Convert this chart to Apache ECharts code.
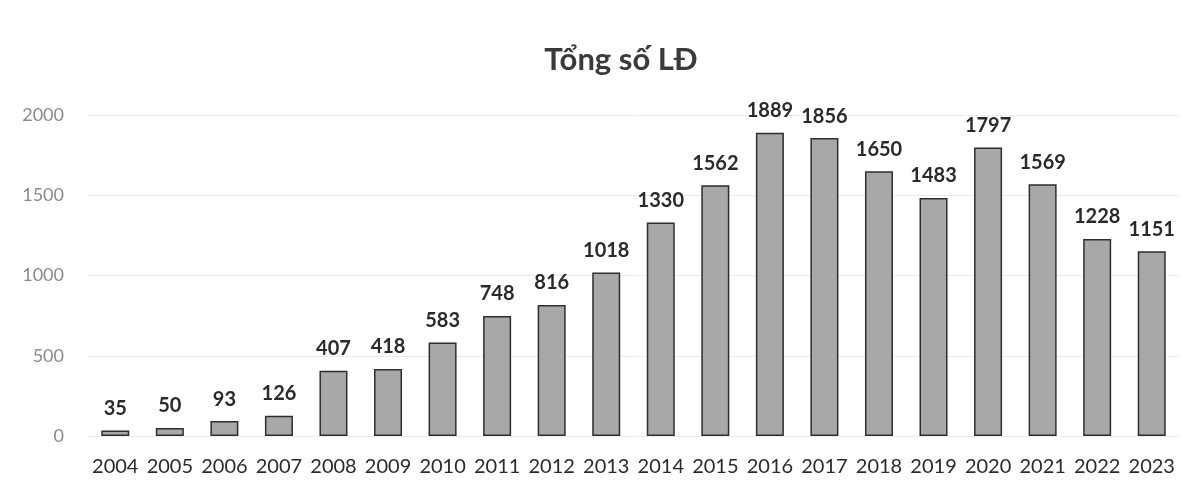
<!DOCTYPE html>
<html><head><meta charset="utf-8">
<script src="https://cdn.jsdelivr.net/npm/echarts@6/dist/echarts.min.js"></script>
<style>html,body{margin:0;padding:0;background:#fff}#c{width:1202px;height:488px}</style>
</head><body><div id="c"></div>
<script>
const title = "Tổng số LĐ";
const years = ["2004","2005","2006","2007","2008","2009","2010","2011","2012","2013","2014","2015","2016","2017","2018","2019","2020","2021","2022","2023"];
const workers = [35,50,93,126,407,418,583,748,816,1018,1330,1562,1889,1856,1650,1483,1797,1569,1228,1151];
const yTicks = [0,500,1000,1500,2000];

const chart = echarts.init(document.getElementById('c'), null, {renderer:'canvas'});
chart.setOption({
  backgroundColor:'#fff',
  animation:false,
  title:{text:title,left:616,top:39,textAlign:'center',
    textStyle:{fontFamily:'Lato, "Open Sans", sans-serif',fontSize:31,fontWeight:'bold',color:'#3a3a3a'}},
  grid:{left:88,right:23,top:115,bottom:52},
  xAxis:{type:'category',data:years,
    axisLine:{show:false},axisTick:{show:false},
    axisLabel:{margin:21,fontFamily:'Lato, "Open Sans", sans-serif',fontSize:20,color:'#2a2a2a',interval:0}},
  yAxis:{type:'value',min:yTicks[0],max:yTicks[yTicks.length-1],interval:500,
    axisLine:{show:false},axisTick:{show:false},
    splitLine:{lineStyle:{color:'#ececec',width:1}},
    axisLabel:{margin:24,fontFamily:'Lato, "Open Sans", sans-serif',fontSize:18,color:'#8a8a8a',
      formatter:v=>String(v)}},
  series:[{type:'bar',data:workers,barWidth:28,
    itemStyle:{color:'#a8a8a8',borderColor:'#2e2e2e',borderWidth:1.5},
    label:{show:true,position:'top',distance:12,fontFamily:'Lato, "Open Sans", sans-serif',fontSize:20,fontWeight:'bold',color:'#2a2a2a'}}]
});
</script></body></html>
